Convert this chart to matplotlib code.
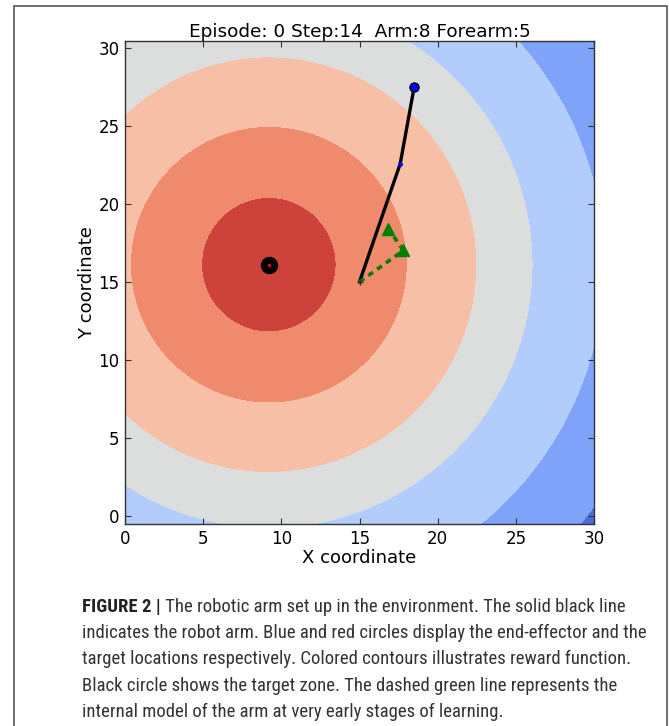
import numpy as np
import matplotlib
matplotlib.use("Agg")
import matplotlib.pyplot as plt
from matplotlib import font_manager
from matplotlib.patches import Rectangle

# --- environment state ---------------------------------------------------
episode = 0
step = 14
arm_length = 8
forearm_length = 5
base_xy = (15.0, 15.0)
shoulder_angle_deg = 71.0      # absolute angle of the upper arm
elbow_angle_deg = 8.7          # forearm angle relative to the upper arm
target_xy = (9.2, 16.1)

# internal (learned) model of the arm: base -> elbow -> hand
model_x = [15.0, 17.81, 16.85]
model_y = [15.0, 17.01, 18.40]

# reward contour boundaries (distance from the target)
reward_levels = [0.0, 4.3, 8.85, 13.3, 16.9, 21.5, 26.0, 40.0]

x_ticks = [0, 5, 10, 15, 20, 25, 30]
y_ticks = [0, 5, 10, 15, 20, 25, 30]

caption_bold = "FIGURE 2 |"
caption_lines = [
    " The robotic arm set up in the environment. The solid black line",
    "indicates the robot arm. Blue and red circles display the end-effector and the",
    "target locations respectively. Colored contours illustrates reward function.",
    "Black circle shows the target zone. The dashed green line represents the",
    "internal model of the arm at very early stages of learning.",
]

# --- figure ----------------------------------------------------------------
W, H = 669, 726
fig = plt.figure(figsize=(W / 100, H / 100), dpi=100)
fig.patch.set_facecolor("white")

# page frame around the figure and caption
fig.add_artist(Rectangle((14 / W, -0.05), (667 - 14) / W, 1.05 - 6 / H,
                         transform=fig.transFigure, fill=False,
                         edgecolor="#555555", linewidth=1.2))

ax = fig.add_axes([125 / W, 1 - 524 / H, (594 - 125) / W, (524 - 41) / H])

gx = np.linspace(0, 30, 301)
gy = np.linspace(-0.5, 30.5, 311)
GX, GY = np.meshgrid(gx, gy)
dist = np.hypot(GX - target_xy[0], GY - target_xy[1])

n_bands = len(reward_levels) - 1
cmap = plt.get_cmap("coolwarm_r")
band_colors = [cmap((i + 0.5) / n_bands) for i in range(n_bands)]
ax.contourf(GX, GY, dist, levels=reward_levels, colors=band_colors)

# robot arm
th1 = np.radians(shoulder_angle_deg)
th2 = th1 + np.radians(elbow_angle_deg)
elbow = (base_xy[0] + arm_length * np.cos(th1), base_xy[1] + arm_length * np.sin(th1))
hand = (elbow[0] + forearm_length * np.cos(th2), elbow[1] + forearm_length * np.sin(th2))
ax.plot([base_xy[0], elbow[0], hand[0]], [base_xy[1], elbow[1], hand[1]],
        color="black", linewidth=2.4, solid_capstyle="round", zorder=3)
ax.plot(*elbow, marker="o", color="blue", markersize=3.5, markeredgewidth=0, zorder=4)
ax.plot(*hand, marker="o", color="blue", markersize=6.5,
        markeredgecolor="black", markeredgewidth=1.0, zorder=4)

# internal model
ax.plot(model_x, model_y, color="green", linestyle=(0, (1.6, 1.4)), linewidth=2.6,
        marker="^", markevery=[1, 2], markersize=8, zorder=5)
ax.plot(model_x[0], model_y[0], marker="+", color="#333333", markersize=4, zorder=6)

# target
ax.plot(*target_xy, marker="o", color="black", markersize=11.5, zorder=4)
ax.plot(*target_xy, marker="o", color="red", markersize=2.5, markeredgewidth=0, zorder=5)

ax.set_xlim(0, 30)
ax.set_ylim(-0.5, 30.42)
ax.set_xticks(x_ticks)
ax.set_yticks(y_ticks)
ax.tick_params(direction="in", top=True, right=True, length=4, labelsize=12,
               color="#333333", pad=4)
for s in ax.spines.values():
    s.set_linewidth(1.0)
    s.set_color("#333333")
ax.set_xlabel("X coordinate", fontsize=13, labelpad=1)
ax.set_ylabel("Y coordinate", fontsize=13, labelpad=2)
ax.set_title(f"Episode: {episode} Step:{step}  Arm:{arm_length} Forearm:{forearm_length}",
             fontsize=13.3, pad=3)

# --- caption -------------------------------------------------------------
names = {f.name for f in font_manager.fontManager.ttflist}
cap_font = "Liberation Sans"
for cand in ["Liberation Sans Narrow", "Roboto Condensed", "Open Sans Condensed", "Roboto"]:
    if cand in names:
        cap_font = cand
        break

x0 = 82 / W
line_y = [607, 633, 659, 686, 712]
widest_px = 560.0  # caption column width

# choose the size that fills the caption column
probe = fig.text(0, 0, caption_lines[1], fontsize=10, family=cap_font)
fig.canvas.draw()
w10 = probe.get_window_extent().width
probe.remove()
cap_size = 10 * widest_px / w10

bold = fig.text(x0, 1 - line_y[0] / H, caption_bold, fontsize=cap_size, family=cap_font,
                weight="bold", va="center", ha="left", color="#222222")
fig.canvas.draw()
bb = bold.get_window_extent().transformed(fig.transFigure.inverted())
fig.text(bb.x1, 1 - line_y[0] / H, caption_lines[0], fontsize=cap_size, family=cap_font,
         va="center", ha="left", color="#333333")
for ly, txt in zip(line_y[1:], caption_lines[1:]):
    fig.text(x0, 1 - ly / H, txt, fontsize=cap_size, family=cap_font,
             va="center", ha="left", color="#333333")

fig.savefig("out.png", dpi=100)
